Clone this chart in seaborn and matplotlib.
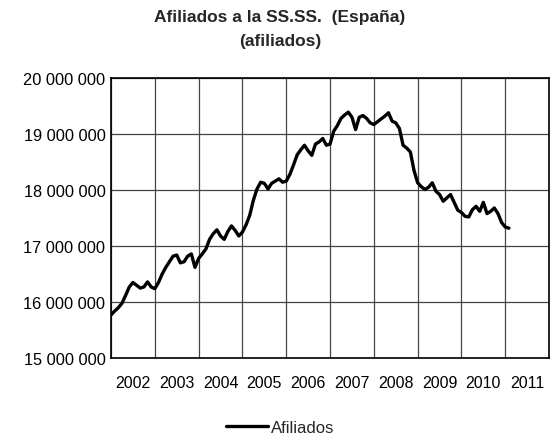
import numpy as np
import pandas as pd
import matplotlib
matplotlib.use("Agg")
import matplotlib.pyplot as plt
import matplotlib.ticker as mticker
import seaborn as sns

# Afiliados mensuales (millones), enero 2002 - febrero 2011
afiliados_2002 = [15.77, 15.84, 15.90, 15.98, 16.12, 16.27, 16.35, 16.30, 16.25, 16.27, 16.36, 16.27]
afiliados_2003 = [16.24, 16.35, 16.50, 16.62, 16.72, 16.82, 16.84, 16.70, 16.72, 16.82, 16.86, 16.62]
afiliados_2004 = [16.78, 16.86, 16.95, 17.12, 17.22, 17.29, 17.18, 17.12, 17.26, 17.36, 17.28, 17.18]
afiliados_2005 = [17.25, 17.38, 17.55, 17.82, 18.02, 18.14, 18.12, 18.02, 18.12, 18.16, 18.20, 18.14]
afiliados_2006 = [18.16, 18.28, 18.45, 18.63, 18.72, 18.80, 18.70, 18.62, 18.82, 18.86, 18.92, 18.80]
afiliados_2007 = [18.82, 19.05, 19.15, 19.28, 19.34, 19.39, 19.30, 19.08, 19.30, 19.33, 19.28, 19.20]
afiliados_2008 = [19.17, 19.22, 19.27, 19.32, 19.38, 19.23, 19.20, 19.10, 18.80, 18.75, 18.68, 18.35]
afiliados_2009 = [18.13, 18.06, 18.01, 18.05, 18.13, 17.98, 17.92, 17.80, 17.86, 17.92, 17.78, 17.64]
afiliados_2010 = [17.60, 17.53, 17.52, 17.65, 17.71, 17.62, 17.78, 17.58, 17.62, 17.68, 17.58, 17.42]
afiliados_2011 = [17.34, 17.32]

valores = (afiliados_2002 + afiliados_2003 + afiliados_2004 + afiliados_2005 + afiliados_2006
           + afiliados_2007 + afiliados_2008 + afiliados_2009 + afiliados_2010 + afiliados_2011)
años = list(range(2002, 2012))

df = pd.DataFrame({
    'fecha': 2002 + np.arange(len(valores)) / 12,
    'Afiliados': np.array(valores) * 1e6,
})

sns.set_theme(style="white")
plt.rcParams['font.family'] = ['Liberation Sans', 'DejaVu Sans']

fig = plt.figure(figsize=(5.51, 4.39), dpi=100)
ax = fig.add_axes([0.2015, 0.182, 0.795, 0.638])

sns.lineplot(data=df, x='fecha', y='Afiliados', color='black', linewidth=2.4,
             label='Afiliados', ax=ax)

ax.set_xlim(2002, 2012)
ax.set_ylim(15e6, 20e6)

# Rejilla en los límites de año, etiquetas centradas en el año
ax.xaxis.set_major_locator(mticker.FixedLocator(range(2002, 2013)))
ax.xaxis.set_major_formatter(mticker.NullFormatter())
ax.xaxis.set_minor_locator(mticker.FixedLocator([a + 0.5 for a in años]))
ax.xaxis.set_minor_formatter(mticker.FixedFormatter([str(a) for a in años]))
ax.yaxis.set_major_locator(mticker.MultipleLocator(1e6))
ax.yaxis.set_major_formatter(mticker.FuncFormatter(lambda v, p: f"{int(v):,}".replace(",", " ")))

ax.tick_params(axis='x', which='both', length=0, labelsize=11.5, pad=12, colors='black')
ax.tick_params(axis='y', length=0, labelsize=11.8, pad=4, colors='black')
ax.grid(True, which='major', color='#444444', linewidth=0.9)
for s in ax.spines.values():
    s.set_color('black')
    s.set_linewidth(1.2)

ax.set_xlabel('')
ax.set_ylabel('')

fig.text(0.508, 0.959, 'Afiliados a la SS.SS.  (España)', ha='center', va='center',
         fontsize=12.5, fontweight='bold')
fig.text(0.508, 0.906, '(afiliados)', ha='center', va='center',
         fontsize=12.5, fontweight='bold')

ax.legend(loc='center', bbox_to_anchor=(0.386, -0.246), frameon=False, fontsize=12,
          handlelength=2.5, handletextpad=0.2)

fig.savefig('out.png', dpi=100)
